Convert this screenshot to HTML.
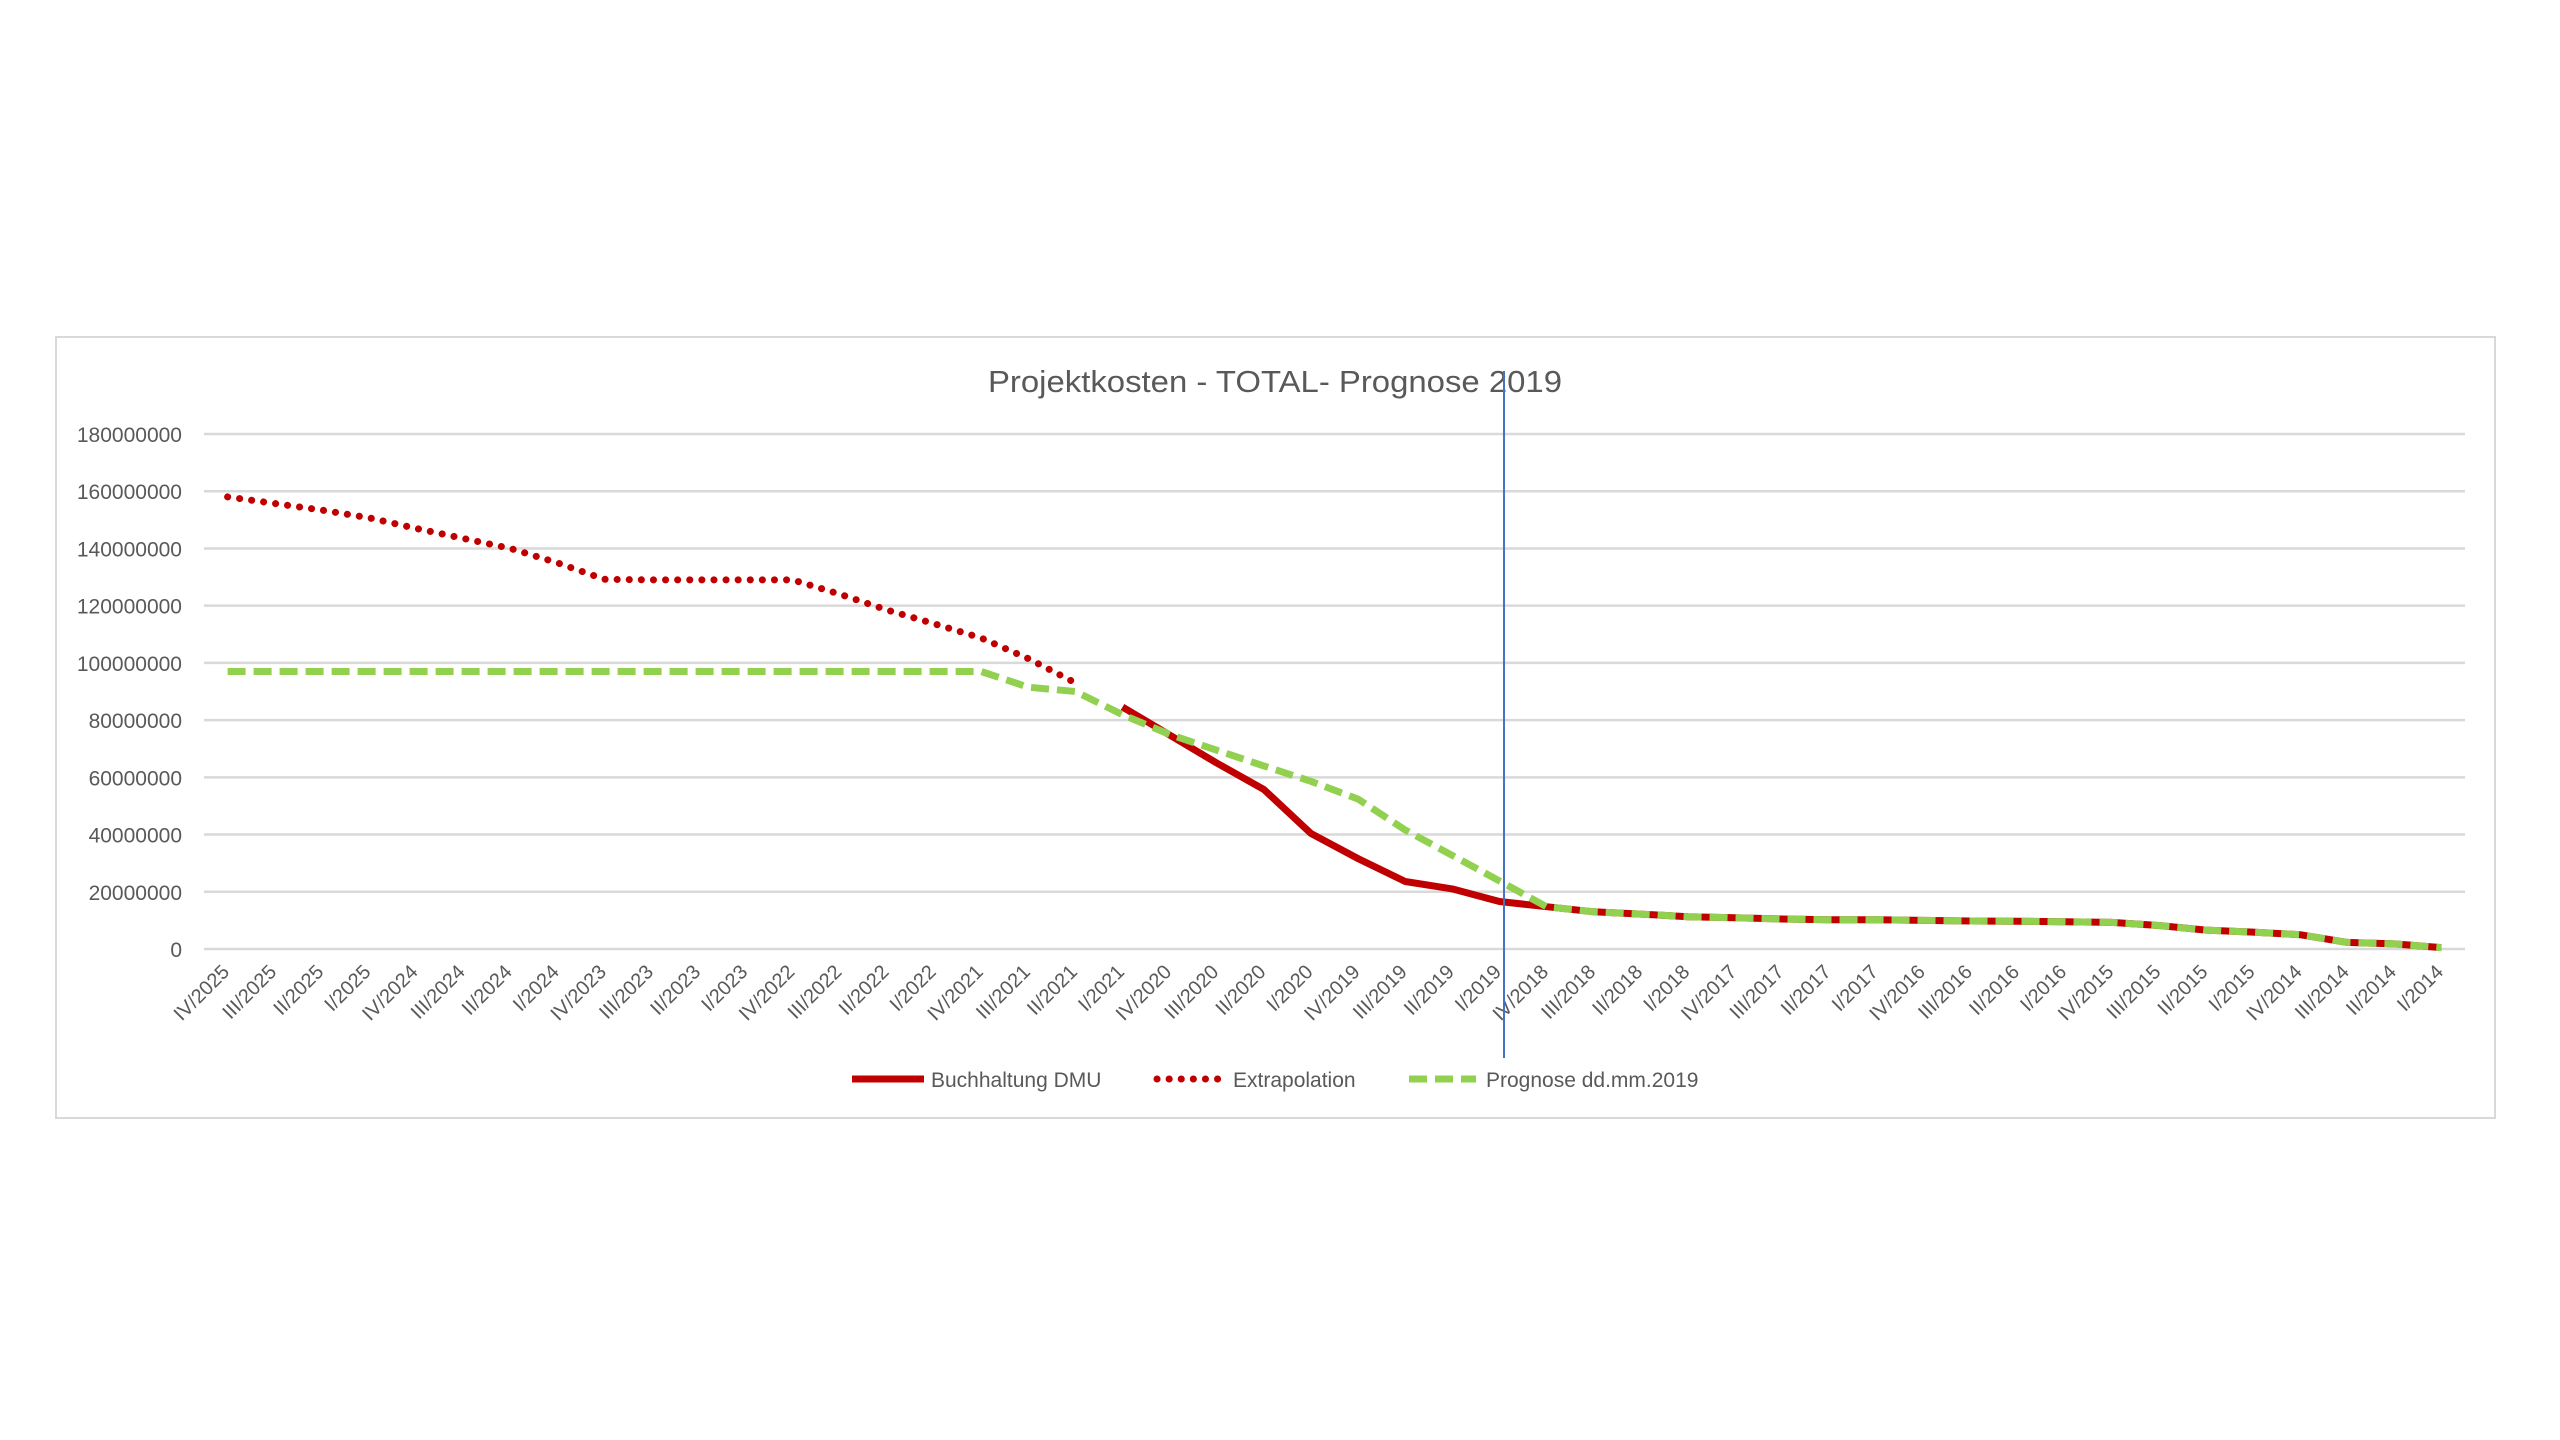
<!DOCTYPE html>
<html><head><meta charset="utf-8">
<style>
html,body{margin:0;padding:0;background:#fff;width:2560px;height:1440px;overflow:hidden;}
svg{display:block;font-family:"Liberation Sans",sans-serif;}
</style></head>
<body>
<svg id="chart" width="2560" height="1440" viewBox="0 0 2560 1440" xmlns="http://www.w3.org/2000/svg">
<rect x="56" y="337" width="2439" height="781" fill="#fff" stroke="#d9d9d9" stroke-width="2"/>
<text x="1275" y="392" text-anchor="middle" font-size="31" fill="#595959" textLength="574" lengthAdjust="spacingAndGlyphs">Projektkosten - TOTAL- Prognose 2019</text>
<g id="grid"></g><g id="yticks"></g><g id="xticks"></g><g id="series"></g>
<line x1="1504" y1="371" x2="1504" y2="1058" stroke="#4472c4" stroke-width="2"/>
<g>
<g>
<line x1="852" y1="1079" x2="924" y2="1079" stroke="#c00000" stroke-width="7"/>
<text x="931" y="1087" font-size="21" fill="#595959">Buchhaltung DMU</text></g>
<g>
<line x1="1157" y1="1079" x2="1220" y2="1079" stroke="#c00000" stroke-width="7" stroke-dasharray="0.1 12" stroke-linecap="round"/>
<text x="1233" y="1087" font-size="21" fill="#595959">Extrapolation</text></g>
<g>
<line x1="1409" y1="1079" x2="1476" y2="1079" stroke="#92d050" stroke-width="7" stroke-dasharray="18 8"/>
<text x="1486" y="1087" font-size="21" fill="#595959">Prognose dd.mm.2019</text></g>
</g>
</svg>
<script>
const categories = (function(){const r=["IV","III","II","I"];const a=[];for(let y=2025;y>=2014;y--)for(const q of r)a.push(q+"/"+y);return a;})();
const yTicks = [0,20000000,40000000,60000000,80000000,100000000,120000000,140000000,160000000,180000000];
// values in millions, null = no data
const extrapolation = [158,155.7,153.4,150.7,147,143.5,140,135,129.2,129,129,129,129,124,118.5,113.7,108.7,101.5,93];
const buchhaltung = [null,null,null,null,null,null,null,null,null,null,null,null,null,null,null,null,null,null,null,
 84.6,74.8,65,55.8,40.4,31.6,23.6,21,16.6,14.8,13.0,12.2,11.3,10.9,10.5,10.2,10.2,10.0,9.8,9.7,9.5,9.3,8.2,6.6,5.9,5.0,2.3,1.8,0.5];
const prognose = [97,97,97,97,97,97,97,97,97,97,97,97,97,97,97,97,97,91.5,90,
 81.9,75,69.5,64,58.6,52.4,41.6,32.7,23.8,14.8,13.0,12.2,11.3,10.9,10.5,10.2,10.2,10.0,9.8,9.7,9.5,9.3,8.2,6.6,5.9,5.0,2.3,1.8,0.5];

const NS="http://www.w3.org/2000/svg";
const plotL=204, plotR=2465, y0=949, yTop=434, yMax=180000000;
const step=(plotR-plotL)/categories.length;
const xs=i=>plotL+(i+0.5)*step;
const ys=v=>y0-(v/yMax)*(y0-yTop);
function mk(tag,attrs,parent){const e=document.createElementNS(NS,tag);for(const k in attrs)e.setAttribute(k,attrs[k]);parent.appendChild(e);return e;}
const grid=document.getElementById('grid'),yt=document.getElementById('yticks'),xt=document.getElementById('xticks'),ser=document.getElementById('series');
yTicks.forEach(v=>{
 const l=mk('line',{x1:plotL,x2:plotR,y1:ys(v),y2:ys(v),stroke:'#d9d9d9','stroke-width':2.5},grid);
 
 
 const t=mk('text',{x:182,y:ys(v)+8,'text-anchor':'end','font-size':21,fill:'#595959'},yt);
 t.textContent=String(v);
 
 
});
categories.forEach((c,i)=>{
 const x=xs(i)+3, y=973;
 const t=mk('text',{x:x,y:y,'text-anchor':'end','font-size':20,fill:'#595959',transform:`rotate(-45 ${x} ${y})`},xt);
 t.textContent=c;
 
 
});
function pathFor(arr){let d='',pen=false;arr.forEach((v,i)=>{if(v==null){pen=false;return;}d+=(pen?'L':'M')+xs(i).toFixed(1)+' '+ys(v*1e6).toFixed(1)+' ';pen=true;});return d;}
const pB=mk('path',{d:pathFor(buchhaltung),fill:'none',stroke:'#c00000','stroke-width':7,'stroke-linejoin':'round'},ser);


const pE=mk('path',{d:pathFor(extrapolation),fill:'none',stroke:'#c00000','stroke-width':7,'stroke-dasharray':'0.1 12','stroke-linecap':'round'},ser);


const pP=mk('path',{d:pathFor(prognose),fill:'none',stroke:'#92d050','stroke-width':7,'stroke-dasharray':'18 8'},ser);


</script>
</body></html>
